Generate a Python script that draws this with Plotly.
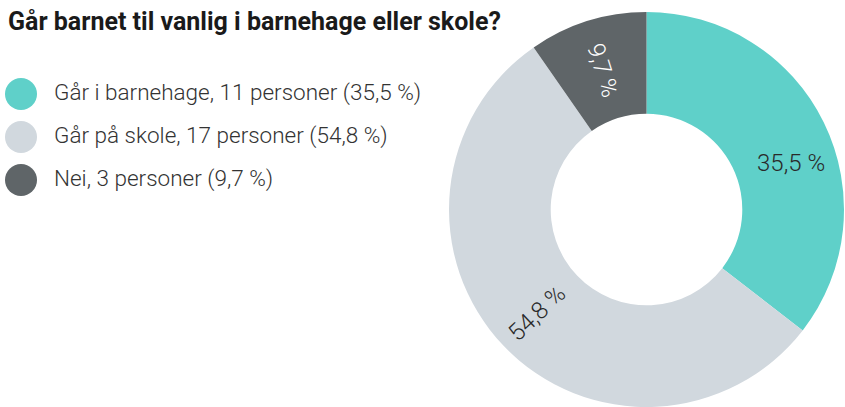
import math
import plotly.graph_objects as go

title = "Går barnet til vanlig i barnehage eller skole?"
categories = ["Går i barnehage", "Går på skole", "Nei"]
counts = [11, 17, 3]
colors = ["#5FD0C9", "#D1D8DE", "#5F6568"]
label_colors = ["#2a2a2a", "#2a2a2a", "#ffffff"]

W, H = 845, 407
total = sum(counts)
pcts = [c / total * 100 for c in counts]
pct_txt = [f"{p:.1f} %".replace(".", ",") for p in pcts]
legend_txt = [f"{cat}, {c} personer ({t})" for cat, c, t in zip(categories, counts, pct_txt)]

FONT = "Roboto"
LEFT_PX, TOP_PX = 448, 12
dom_x = [LEFT_PX / W, 1.0]
dom_y = [0.0, 1 - TOP_PX / H]
HOLE = 0.485

fig = go.Figure()
fig.add_trace(go.Pie(
    values=counts, labels=categories, sort=False, direction="clockwise", rotation=0,
    hole=HOLE, marker=dict(colors=colors, line=dict(width=0)),
    text=["", "", pct_txt[2]], textinfo="text", textposition="inside",
    insidetextorientation="radial",
    textfont=dict(family=FONT, size=24, color=label_colors, weight=300),
    domain=dict(x=dom_x, y=dom_y), showlegend=False, hoverinfo="skip",
))

# pie geometry in pixels (for the two labels placed as annotations)
w_px = W * (dom_x[1] - dom_x[0])
h_px = H * (dom_y[1] - dom_y[0])
R = min(w_px, h_px) / 2
cx = W * (dom_x[0] + dom_x[1]) / 2
cy = H * (1 - (dom_y[0] + dom_y[1]) / 2)
rr = R * (1 + HOLE) / 2 + 4

def mid_angle(i):
    return (sum(counts[:i]) + counts[i] / 2) / total * 360

# slice 0: horizontal label
m0 = mid_angle(0)
fig.add_annotation(
    x=(cx + rr * math.sin(math.radians(m0))) / W,
    y=1 - (cy - rr * math.cos(math.radians(m0))) / H,
    xref="paper", yref="paper", text=pct_txt[0], showarrow=False,
    xanchor="center", yanchor="middle", xshift=9, yshift=-20,
    font=dict(family=FONT, size=24, color=label_colors[0], weight=300),
)
# slice 1: radial label
m1 = mid_angle(1)
ang = m1 - 90
if ang > 90:
    ang -= 180
fig.add_annotation(
    x=(cx + rr * math.sin(math.radians(m1))) / W,
    y=1 - (cy - rr * math.cos(math.radians(m1))) / H,
    xref="paper", yref="paper", text=pct_txt[1], showarrow=False,
    textangle=ang, xanchor="center", yanchor="middle",
    font=dict(family=FONT, size=24, color=label_colors[1], weight=300),
)

# legend drawn as scatter on pixel-scaled hidden axes
idx = list(range(len(categories)))
fig.add_trace(go.Scatter(
    x=[21] * len(idx), y=idx, mode="markers",
    marker=dict(size=32, color=colors, line=dict(width=0)),
    showlegend=False, hoverinfo="skip",
))
fig.add_trace(go.Scatter(
    x=[54] * len(idx), y=idx, mode="text", text=legend_txt,
    textposition="middle right",
    textfont=dict(family=FONT, size=22.5, color="#333333", weight=300),
    showlegend=False, hoverinfo="skip",
))

fig.add_annotation(
    x=6 / W, y=1 - 21 / H, xref="paper", yref="paper", text=f"<b>{title}</b>",
    showarrow=False, xanchor="left", yanchor="middle",
    font=dict(family=FONT, size=25, color="#1a1a1a"),
)

row0, step = 94, 43
fig.update_layout(
    width=W, height=H, margin=dict(l=0, r=0, t=0, b=0),
    paper_bgcolor="white", plot_bgcolor="rgba(0,0,0,0)",
    xaxis=dict(range=[0, W], visible=False, fixedrange=True),
    yaxis=dict(range=[(H - row0) / step, -row0 / step], visible=False, fixedrange=True),
)

fig.write_html(
    "out.html",
    config={"displayModeBar": False},
    post_script="document.body.style.margin='0';document.body.style.overflow='hidden';",
)
